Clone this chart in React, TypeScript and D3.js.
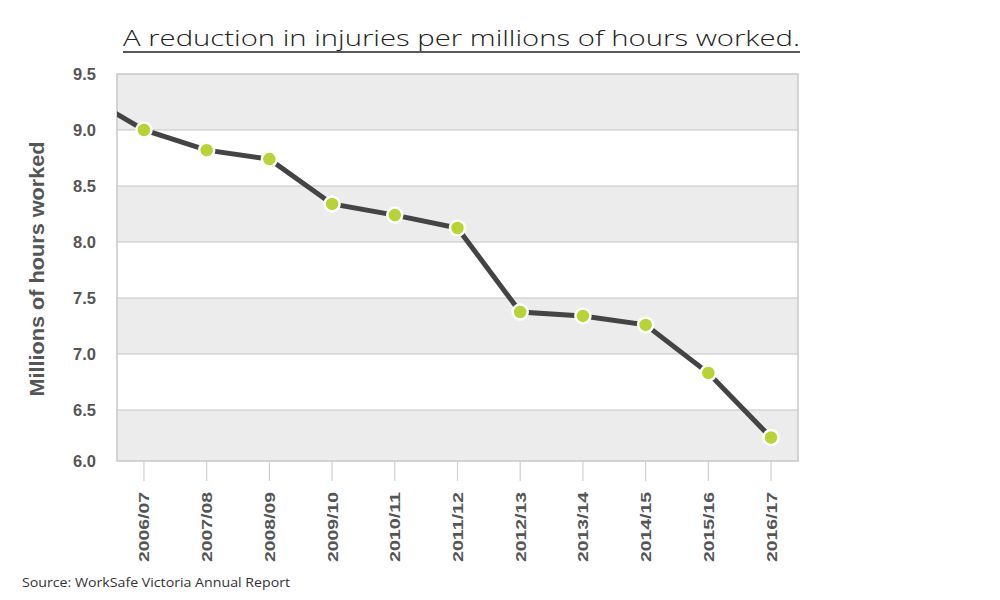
import React from "react";
import * as d3 from "d3";

const categories = ["2006/07","2007/08","2008/09","2009/10","2010/11","2011/12","2012/13","2013/14","2014/15","2015/16","2016/17"];
const values = [9.0, 8.82, 8.74, 8.34, 8.24, 8.125, 7.375, 7.34, 7.26, 6.83, 6.23];
const leadInValue = 9.33; // previous year (off-chart), line runs in from the left edge
const yTicks = [6.0, 6.5, 7.0, 7.5, 8.0, 8.5, 9.0, 9.5];
const title = "A reduction in injuries per millions of hours worked.";
const yTitle = "Millions of hours worked";
const source = "Source: WorkSafe Victoria Annual Report";

export default function App() {
  const W = 1000, H = 600;
  const left = 117, right = 798, top = 74, bottom = 461;
  const x = d3.scalePoint<string>().domain(categories).range([left, right]).padding(0.43);
  const y = d3.scaleLinear().domain([6, 6.5, 9.5]).range([bottom, 410, top]);
  const step = x.step();
  const pts: [number, number][] = [[(x(categories[0]) as number) - step, y(leadInValue)]];
  categories.forEach((c, i) => pts.push([x(c) as number, y(values[i])]));
  const line = d3.line()(pts) as string;
  const bands = yTicks.slice(0, -1).map((v, i) => ({ lo: v, hi: yTicks[i + 1], grey: i % 2 === 0 }));
  const bold = "'Liberation Sans', Arial, sans-serif";
  const light = "'Open Sans', Lato, sans-serif";
  return (
    <svg width={W} height={H} style={{ display: "block", position: "absolute", left: 0, top: 0 }}>
      <rect width={W} height={H} fill="#fff" />
      <text x={123} y={46} textLength={677} lengthAdjust="spacingAndGlyphs" fontFamily={light} fontWeight={300} fontSize={22.5} fill="#222">{title}</text>
      <line x1={123} x2={800} y1={52} y2={52} stroke="#222" strokeWidth={1.6} />
      <defs>
        <clipPath id="plotClip"><rect x={left} y={top} width={right - left} height={bottom - top} /></clipPath>
      </defs>
      {bands.map((b, i) => (
        <rect key={i} x={left} y={y(b.hi)} width={right - left} height={y(b.lo) - y(b.hi)} fill={b.grey ? "#ececec" : "#ffffff"} />
      ))}
      {yTicks.slice(1, -1).map((t) => (
        <line key={t} x1={left} x2={right} y1={y(t)} y2={y(t)} stroke="#c4c4c4" strokeWidth={1.2} />
      ))}
      <rect x={left} y={top} width={right - left} height={bottom - top} fill="none" stroke="#c8c8c8" strokeWidth={1.5} />
      {categories.map((c) => (
        <line key={c} x1={x(c)} x2={x(c)} y1={bottom} y2={bottom + 20} stroke="#cfcfcf" strokeWidth={1.2} />
      ))}
      {yTicks.map((t) => (
        <text key={t} x={96} y={y(t)} dy="0.35em" textAnchor="end" fontFamily={bold} fontWeight="bold" fontSize={16.5} fill="#555">{t.toFixed(1)}</text>
      ))}
      <text transform={`translate(44,269) rotate(-90)`} textAnchor="middle" textLength={255} lengthAdjust="spacingAndGlyphs" fontFamily={bold} fontWeight="bold" fontSize={19.5} fill="#555">{yTitle}</text>
      {categories.map((c) => (
        <text key={c} transform={`translate(${(x(c) as number) + 5.5},492) rotate(-90)`} textAnchor="end" textLength={70} lengthAdjust="spacingAndGlyphs" fontFamily={bold} fontWeight="bold" fontSize={15.5} fill="#555">{c}</text>
      ))}
      <path d={line} fill="none" stroke="#444" strokeWidth={5} clipPath="url(#plotClip)" />
      {categories.map((c, i) => (
        <circle key={c} cx={x(c)} cy={y(values[i])} r={7.5} fill="#b7d334" stroke="#fff" strokeWidth={2.5} />
      ))}
      <text x={22} y={587} textLength={268} lengthAdjust="spacingAndGlyphs" fontFamily={light} fontWeight={400} fontSize={13.5} fill="#333">{source}</text>
    </svg>
  );
}
